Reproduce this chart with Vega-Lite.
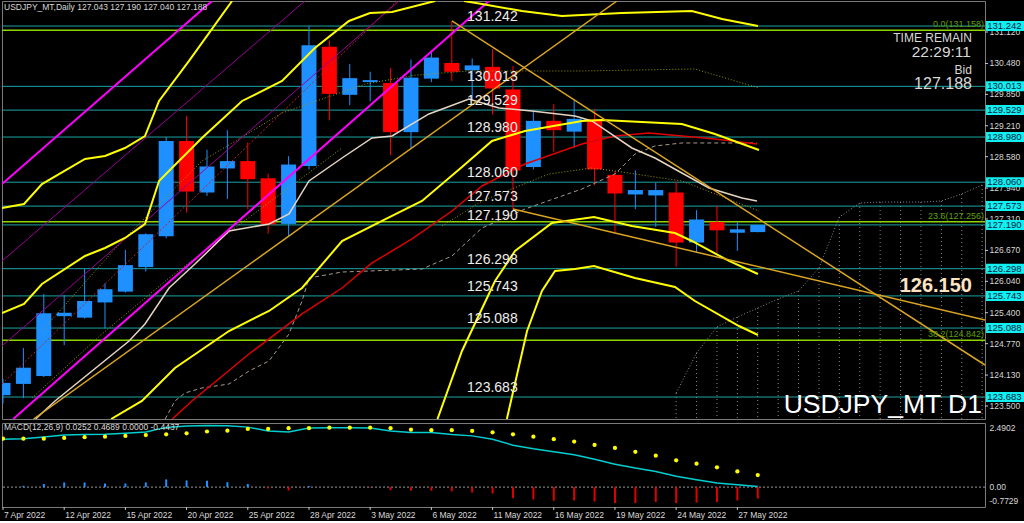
{
"$schema":"https://vega.github.io/schema/vega-lite/v6.json",
"background":"#000000",
"padding":0,
"spacing":2,
"config":{"view":{"stroke":"#7a7a7a","strokeWidth":1},"text":{"font":"Liberation Sans"},"scale":{"continuousPadding":0}},
"datasets":{
"candles":[
{"i":0,"d":"7 Apr","o":123.72,"h":124.05,"l":123.55,"c":123.97},
{"i":1,"d":"8 Apr","o":123.95,"h":124.68,"l":123.66,"c":124.28},
{"i":2,"d":"11 Apr","o":124.11,"h":125.78,"l":124.09,"c":125.39},
{"i":3,"d":"12 Apr","o":125.33,"h":125.76,"l":124.74,"c":125.40},
{"i":4,"d":"13 Apr","o":125.30,"h":126.31,"l":125.28,"c":125.64},
{"i":5,"d":"14 Apr","o":125.61,"h":126.00,"l":125.08,"c":125.88},
{"i":6,"d":"15 Apr","o":125.83,"h":126.68,"l":125.81,"c":126.37},
{"i":7,"d":"18 Apr","o":126.33,"h":127.02,"l":126.24,"c":127.00},
{"i":8,"d":"19 Apr","o":126.96,"h":128.98,"l":126.92,"c":128.90},
{"i":9,"d":"20 Apr","o":128.90,"h":129.41,"l":127.44,"c":127.87},
{"i":10,"d":"21 Apr","o":127.85,"h":128.72,"l":127.78,"c":128.38},
{"i":11,"d":"22 Apr","o":128.34,"h":129.12,"l":127.72,"c":128.49},
{"i":12,"d":"25 Apr","o":128.49,"h":128.87,"l":127.51,"c":128.12},
{"i":13,"d":"26 Apr","o":128.14,"h":128.23,"l":127.01,"c":127.20},
{"i":14,"d":"27 Apr","o":127.21,"h":128.59,"l":126.96,"c":128.42},
{"i":15,"d":"28 Apr","o":128.39,"h":131.24,"l":128.32,"c":130.85},
{"i":16,"d":"29 Apr","o":130.82,"h":130.95,"l":129.32,"c":129.86},
{"i":17,"d":"2 May","o":129.84,"h":130.47,"l":129.63,"c":130.18},
{"i":18,"d":"3 May","o":130.10,"h":130.31,"l":129.71,"c":130.14},
{"i":19,"d":"4 May","o":130.08,"h":130.39,"l":128.61,"c":129.08},
{"i":20,"d":"5 May","o":129.08,"h":130.56,"l":128.75,"c":130.19},
{"i":21,"d":"6 May","o":130.17,"h":130.73,"l":130.10,"c":130.60},
{"i":22,"d":"9 May","o":130.49,"h":131.34,"l":130.12,"c":130.31},
{"i":23,"d":"10 May","o":130.34,"h":130.58,"l":129.71,"c":130.44},
{"i":24,"d":"11 May","o":130.41,"h":130.77,"l":129.44,"c":129.97},
{"i":25,"d":"12 May","o":129.95,"h":130.43,"l":127.51,"c":128.30},
{"i":26,"d":"13 May","o":128.37,"h":129.51,"l":128.32,"c":129.31},
{"i":27,"d":"16 May","o":129.31,"h":129.65,"l":128.68,"c":129.12},
{"i":28,"d":"17 May","o":129.09,"h":129.73,"l":128.76,"c":129.35},
{"i":29,"d":"18 May","o":129.34,"h":129.55,"l":128.00,"c":128.32},
{"i":30,"d":"19 May","o":128.21,"h":128.29,"l":127.03,"c":127.83},
{"i":31,"d":"20 May","o":127.81,"h":128.30,"l":127.51,"c":127.90},
{"i":32,"d":"23 May","o":127.79,"h":128.05,"l":127.15,"c":127.90},
{"i":33,"d":"24 May","o":127.85,"h":128.07,"l":126.34,"c":126.83},
{"i":34,"d":"25 May","o":126.83,"h":127.49,"l":126.64,"c":127.30},
{"i":35,"d":"26 May","o":127.25,"h":127.58,"l":126.62,"c":127.08},
{"i":36,"d":"27 May","o":127.03,"h":127.25,"l":126.66,"c":127.10},
{"i":37,"d":"30 May","o":127.043,"h":127.190,"l":127.040,"c":127.188}
],
"macd":[
{"i":0,"m":1.86,"s":1.88,"h":0.0},{"i":1,"m":1.88,"s":1.88,"h":0.05},{"i":2,"m":1.95,"s":1.88,"h":0.12},{"i":3,"m":2.02,"s":1.91,"h":0.18},
{"i":4,"m":2.04,"s":1.94,"h":0.18},{"i":5,"m":2.05,"s":1.96,"h":0.14},{"i":6,"m":2.09,"s":1.99,"h":0.14},{"i":7,"m":2.14,"s":2.02,"h":0.18},
{"i":8,"m":2.32,"s":2.05,"h":0.30},{"i":9,"m":2.37,"s":2.09,"h":0.26},{"i":10,"m":2.39,"s":2.16,"h":0.25},{"i":11,"m":2.38,"s":2.19,"h":0.19},
{"i":12,"m":2.33,"s":2.26,"h":0.12},{"i":13,"m":2.18,"s":2.26,"h":-0.05},{"i":14,"m":2.14,"s":2.29,"h":-0.13},{"i":15,"m":2.30,"s":2.29,"h":0.04},
{"i":16,"m":2.31,"s":2.31,"h":0.01},{"i":17,"m":2.31,"s":2.31,"h":0.01},{"i":18,"m":2.30,"s":2.31,"h":-0.02},{"i":19,"m":2.18,"s":2.29,"h":-0.12},
{"i":20,"m":2.12,"s":2.23,"h":-0.14},{"i":21,"m":2.12,"s":2.21,"h":-0.14},{"i":22,"m":2.04,"s":2.21,"h":-0.16},{"i":23,"m":1.99,"s":2.18,"h":-0.21},
{"i":24,"m":1.86,"s":2.13,"h":-0.25},{"i":25,"m":1.63,"s":2.05,"h":-0.43},{"i":26,"m":1.49,"s":1.96,"h":-0.48},{"i":27,"m":1.37,"s":1.86,"h":-0.53},
{"i":28,"m":1.26,"s":1.77,"h":-0.52},{"i":29,"m":1.08,"s":1.64,"h":-0.56},{"i":30,"m":0.89,"s":1.52,"h":-0.62},{"i":31,"m":0.74,"s":1.37,"h":-0.62},
{"i":32,"m":0.61,"s":1.22,"h":-0.58},{"i":33,"m":0.42,"s":1.04,"h":-0.62},{"i":34,"m":0.29,"s":0.91,"h":-0.60},{"i":35,"m":0.16,"s":0.77,"h":-0.58},
{"i":36,"m":0.09,"s":0.61,"h":-0.52},{"i":37,"m":0.0252,"s":0.4689,"h":-0.4437}
],
"levels":[{"p":131.242},{"p":130.013},{"p":129.529},{"p":128.980},{"p":128.060},{"p":127.573},{"p":127.190},{"p":126.298},{"p":125.743},{"p":125.088},{"p":123.683}],
"fib":[{"p":131.158,"t":"0.0(131.158)"},{"p":127.256,"t":"23.6(127.256)"},{"p":124.842,"t":"38.2(124.842)"}],
"pticks":[{"p":131.12,"t":"131.120"},{"p":130.48,"t":"130.480"},{"p":129.85,"t":"129.850"},{"p":129.21,"t":"129.210"},{"p":128.58,"t":"128.580"},{"p":127.94,"t":"127.940"},{"p":127.31,"t":"127.310"},{"p":126.67,"t":"126.670"},{"p":126.04,"t":"126.040"},{"p":125.40,"t":"125.400"},{"p":124.77,"t":"124.770"},{"p":124.13,"t":"124.130"},{"p":123.50,"t":"123.500"}],
"dticks":[{"i":0,"t":"7 Apr 2022"},{"i":3,"t":"12 Apr 2022"},{"i":6,"t":"15 Apr 2022"},{"i":9,"t":"20 Apr 2022"},{"i":12,"t":"25 Apr 2022"},{"i":15,"t":"28 Apr 2022"},{"i":18,"t":"3 May 2022"},{"i":21,"t":"6 May 2022"},{"i":24,"t":"11 May 2022"},{"i":27,"t":"16 May 2022"},{"i":30,"t":"19 May 2022"},{"i":33,"t":"24 May 2022"},{"i":36,"t":"27 May 2022"}],
"cloud":[
{"i":33,"p":123.765},{"i":34,"p":124.58},{"i":35,"p":125.11},{"i":36,"p":125.314},{"i":37,"p":125.497},{"i":38,"p":125.68},{"i":39,"p":125.843},{"i":40,"p":126.312},
{"i":41,"p":127.351},{"i":42,"p":127.636},{"i":43,"p":127.656},{"i":44,"p":127.656},{"i":45,"p":127.656},{"i":46,"p":127.677},{"i":47,"p":127.82},{"i":48,"p":128.003}
],
"curves":[
{"k":"A","i":-0.05,"p":127.534},{"k":"A","i":1.03,"p":127.616},{"k":"A","i":1.91,"p":128.023},{"k":"A","i":4.02,"p":128.533},{"k":"A","i":5.0,"p":128.594},{"k":"A","i":5.98,"p":128.757},{"k":"A","i":6.96,"p":129.001},{"k":"A","i":7.65,"p":129.715},{"k":"A","i":9.12,"p":130.53},{"k":"A","i":11.23,"p":131.752},
{"k":"B","i":-0.05,"p":125.395},{"k":"B","i":1.03,"p":125.578},{"k":"B","i":1.91,"p":125.986},{"k":"B","i":4.02,"p":126.556},{"k":"B","i":5.0,"p":126.719},{"k":"B","i":5.98,"p":126.923},{"k":"B","i":6.96,"p":127.208},{"k":"B","i":7.65,"p":128.085},{"k":"B","i":8.28,"p":128.349},{"k":"B","i":9.75,"p":128.961},{"k":"B","i":11.72,"p":129.715},{"k":"B","i":13.68,"p":130.122},{"k":"B","i":15.29,"p":130.794},{"k":"B","i":16.96,"p":131.345},{"k":"B","i":17.99,"p":131.508},{"k":"B","i":19.07,"p":131.528},{"k":"B","i":21.18,"p":131.752},
{"k":"B2","i":22.6,"p":131.752},{"k":"B2","i":23.48,"p":131.691},{"k":"B2","i":25.44,"p":131.548},{"k":"B2","i":27.4,"p":131.446},{"k":"B2","i":30.34,"p":131.508},{"k":"B2","i":33.77,"p":131.548},{"k":"B2","i":35.25,"p":131.385},{"k":"B2","i":37.01,"p":131.243},
{"k":"C","i":5.3,"p":123.235},{"k":"C","i":6.81,"p":123.602},{"k":"C","i":8.43,"p":124.274},{"k":"C","i":11.08,"p":125.028},{"k":"C","i":13.04,"p":125.436},{"k":"C","i":14.66,"p":125.904},{"k":"C","i":16.62,"p":126.862},{"k":"C","i":18.58,"p":127.27},{"k":"C","i":20.54,"p":127.677},{"k":"C","i":22.5,"p":128.37},{"k":"C","i":23.97,"p":128.9},{"k":"C","i":25.59,"p":129.103},{"k":"C","i":28.38,"p":129.307},{"k":"C","i":29.36,"p":129.327},{"k":"C","i":33.28,"p":129.246},{"k":"C","i":34.9,"p":129.042},{"k":"C","i":37.06,"p":128.716},
{"k":"D","i":21.3,"p":123.235},{"k":"D","i":22.5,"p":124.621},{"k":"D","i":24.12,"p":126.047},{"k":"D","i":25.1,"p":126.658},{"k":"D","i":26.91,"p":127.229},{"k":"D","i":28.97,"p":127.351},{"k":"D","i":30.83,"p":127.168},{"k":"D","i":32.94,"p":127.025},{"k":"D","i":33.77,"p":126.862},{"k":"D","i":35.59,"p":126.455},{"k":"D","i":37.01,"p":126.19},
{"k":"E","i":24.7,"p":123.235},{"k":"E","i":25.69,"p":125.028},{"k":"E","i":26.42,"p":125.843},{"k":"E","i":27.06,"p":126.251},{"k":"E","i":28.04,"p":126.291},{"k":"E","i":28.97,"p":126.353},{"k":"E","i":30.98,"p":126.108},{"k":"E","i":32.94,"p":125.925},{"k":"E","i":33.92,"p":125.639},{"k":"E","i":36.08,"p":125.13},{"k":"E","i":37.01,"p":124.947},
{"k":"W","i":1.6,"p":123.235},{"k":"W","i":2.55,"p":123.602},{"k":"W","i":6.18,"p":124.825},{"k":"W","i":6.96,"p":125.171},{"k":"W","i":8.14,"p":125.904},{"k":"W","i":9.41,"p":126.393},{"k":"W","i":11.08,"p":127.066},{"k":"W","i":13.04,"p":127.208},{"k":"W","i":14.02,"p":127.412},{"k":"W","i":15.0,"p":128.085},{"k":"W","i":16.62,"p":128.553},{"k":"W","i":18.09,"p":128.961},{"k":"W","i":19.07,"p":129.001},{"k":"W","i":20.88,"p":129.45},{"k":"W","i":22.84,"p":129.755},{"k":"W","i":24.31,"p":129.572},{"k":"W","i":25.93,"p":129.511},{"k":"W","i":28.04,"p":129.409},{"k":"W","i":28.87,"p":129.307},{"k":"W","i":30.83,"p":128.757},{"k":"W","i":31.96,"p":128.553},{"k":"W","i":33.28,"p":128.248},{"k":"W","i":34.61,"p":127.942},{"k":"W","i":36.23,"p":127.738},{"k":"W","i":36.96,"p":127.677},
{"k":"R","i":8.3,"p":123.235},{"k":"R","i":9.26,"p":123.602},{"k":"R","i":12.06,"p":124.56},{"k":"R","i":14.66,"p":125.375},{"k":"R","i":16.62,"p":125.904},{"k":"R","i":18.09,"p":126.414},{"k":"R","i":20.05,"p":126.903},{"k":"R","i":22.01,"p":127.473},{"k":"R","i":23.48,"p":127.983},{"k":"R","i":25.59,"p":128.431},{"k":"R","i":28.38,"p":128.838},{"k":"R","i":30.0,"p":129.001},{"k":"R","i":31.67,"p":129.062},{"k":"R","i":33.28,"p":129.001},{"k":"R","i":34.9,"p":128.94},{"k":"R","i":36.96,"p":128.838},
{"k":"K","i":7.95,"p":123.235},{"k":"K","i":8.43,"p":123.602},{"k":"K","i":8.92,"p":123.765},{"k":"K","i":9.75,"p":123.867},{"k":"K","i":11.08,"p":123.948},{"k":"K","i":12.06,"p":124.213},{"k":"K","i":13.04,"p":124.417},{"k":"K","i":14.02,"p":124.967},{"k":"K","i":14.66,"p":125.64},{"k":"K","i":15.0,"p":126.108},{"k":"K","i":16.62,"p":126.23},{"k":"K","i":20.54,"p":126.291},{"k":"K","i":22.01,"p":126.556},{"k":"K","i":23.48,"p":127.127},{"k":"K","i":25.59,"p":127.514},{"k":"K","i":28.38,"p":127.922},{"k":"K","i":30.0,"p":128.227},{"k":"K","i":30.98,"p":128.635},{"k":"K","i":31.96,"p":128.798},{"k":"K","i":33.28,"p":128.859},{"k":"K","i":36.96,"p":128.859},
{"k":"O1","i":1.91,"p":125.03},{"k":"O1","i":5.83,"p":126.862},{"k":"O1","i":9.75,"p":128.49},{"k":"O1","i":13.68,"p":129.47},{"k":"O1","i":17.75,"p":130.06},{"k":"O1","i":20.2,"p":130.24},{"k":"O1","i":22.84,"p":130.326},{"k":"O1","i":28.38,"p":130.326},{"k":"O1","i":33.92,"p":130.367},{"k":"O1","i":37.06,"p":129.979},
{"k":"O2","i":1.42,"p":123.663},{"k":"O2","i":4.85,"p":124.967},{"k":"O2","i":8.14,"p":126.108},{"k":"O2","i":11.37,"p":127.127},{"k":"O2","i":16.62,"p":128.757},
{"k":"O3","i":21.52,"p":127.167},{"k":"O3","i":23.48,"p":127.677},{"k":"O3","i":26.76,"p":128.227},{"k":"O3","i":28.87,"p":128.35},{"k":"O3","i":30.0,"p":128.288},{"k":"O3","i":33.28,"p":128.085},{"k":"O3","i":37.06,"p":127.473},
{"k":"M1","i":0.5,"p":123.235},{"k":"M1","i":23.82,"p":131.752},
{"k":"M2","i":-0.049,"p":128.023},{"k":"M2","i":10.25,"p":131.752},
{"k":"P1","i":-0.049,"p":126.454},{"k":"P1","i":14.8,"p":131.752},
{"k":"P2","i":-0.049,"p":124.723},{"k":"P2","i":19.41,"p":131.752},
{"k":"RD","i":-0.049,"p":123.948},{"k":"RD","i":19.31,"p":131.752},
{"k":"T1","i":1.5,"p":123.235},{"k":"T1","i":30.098,"p":131.752},
{"k":"T2","i":22.01,"p":131.345},{"k":"T2","i":48.14,"p":124.335},
{"k":"T3","i":25.0,"p":127.514},{"k":"T3","i":48.14,"p":125.251}
]
},
"vconcat":[
{
"width":983,"height":418,
"layer":[
{"data":{"name":"levels"},"mark":{"type":"rule","color":"#1CA3A3","strokeWidth":1},
 "encoding":{"y":{"field":"p","type":"quantitative","scale":{"domain":[123.235,131.752],"nice":false,"zero":false,"padding":0},"axis":null}}},
{"data":{"name":"fib"},"mark":{"type":"rule","color":"#8CD600","strokeWidth":1.5},
 "encoding":{"y":{"field":"p","type":"quantitative","scale":{"domain":[123.235,131.752],"nice":false,"zero":false,"padding":0},"axis":null}}},
{"data":{"name":"cloud"},"mark":{"type":"rule","color":"#8a8a8a","strokeWidth":1,"strokeDash":[1,3],"clip":true},
 "encoding":{"x":{"field":"i","type":"quantitative","scale":{"domain":[-0.049,48.14],"nice":false,"zero":false,"padding":0},"axis":null},
  "y":{"field":"p","type":"quantitative","scale":{"domain":[123.235,131.752],"nice":false,"zero":false,"padding":0},"axis":null},
  "y2":{"datum":123.235}}},
{"data":{"name":"cloud"},"mark":{"type":"line","color":"#8a8a8a","strokeWidth":1,"strokeDash":[1,2],"clip":true},
 "encoding":{"x":{"field":"i","type":"quantitative","scale":{"domain":[-0.049,48.14],"nice":false,"zero":false,"padding":0},"axis":null},
  "y":{"field":"p","type":"quantitative","scale":{"domain":[123.235,131.752],"nice":false,"zero":false,"padding":0},"axis":null}}},
{"data":{"name":"candles"},"mark":{"type":"rule","strokeWidth":1,"clip":true},
 "encoding":{"x":{"field":"i","type":"quantitative","scale":{"domain":[-0.049,48.14],"nice":false,"zero":false,"padding":0},"axis":null},
  "y":{"field":"l","type":"quantitative","scale":{"domain":[123.235,131.752],"nice":false,"zero":false,"padding":0},"axis":null},
  "y2":{"field":"h"},
  "color":{"condition":{"test":"datum.c >= datum.o","value":"#1E90FF"},"value":"#FF0000"}}},
{"data":{"name":"candles"},"mark":{"type":"bar","size":15,"clip":true},
 "encoding":{"x":{"field":"i","type":"quantitative","scale":{"domain":[-0.049,48.14],"nice":false,"zero":false,"padding":0},"axis":null},
  "y":{"field":"o","type":"quantitative","scale":{"domain":[123.235,131.752],"nice":false,"zero":false,"padding":0},"axis":null},
  "y2":{"field":"c"},
  "color":{"condition":{"test":"datum.c >= datum.o","value":"#1E90FF"},"value":"#FF0000"}}},
{"data":{"name":"curves"},"transform":[{"filter":{"field":"k","oneOf":["O1","O2","O3"]}}],
 "mark":{"type":"line","color":"#9A9A10","strokeWidth":1,"strokeDash":[1,2],"clip":true},
 "encoding":{"x":{"field":"i","type":"quantitative","scale":{"domain":[-0.049,48.14],"nice":false,"zero":false,"padding":0},"axis":null},
  "y":{"field":"p","type":"quantitative","scale":{"domain":[123.235,131.752],"nice":false,"zero":false,"padding":0},"axis":null},"detail":{"field":"k"}}},
{"data":{"name":"curves"},"transform":[{"filter":{"field":"k","oneOf":["RD"]}}],
 "mark":{"type":"line","color":"#C02020","strokeWidth":1,"strokeDash":[2,2],"clip":true},
 "encoding":{"x":{"field":"i","type":"quantitative","scale":{"domain":[-0.049,48.14],"nice":false,"zero":false,"padding":0},"axis":null},
  "y":{"field":"p","type":"quantitative","scale":{"domain":[123.235,131.752],"nice":false,"zero":false,"padding":0},"axis":null},"detail":{"field":"k"}}},
{"data":{"name":"curves"},"transform":[{"filter":{"field":"k","oneOf":["P1","P2"]}}],
 "mark":{"type":"line","color":"#990099","strokeWidth":1,"clip":true},
 "encoding":{"x":{"field":"i","type":"quantitative","scale":{"domain":[-0.049,48.14],"nice":false,"zero":false,"padding":0},"axis":null},
  "y":{"field":"p","type":"quantitative","scale":{"domain":[123.235,131.752],"nice":false,"zero":false,"padding":0},"axis":null},"detail":{"field":"k"}}},
{"data":{"name":"curves"},"transform":[{"filter":{"field":"k","oneOf":["K"]}}],
 "mark":{"type":"line","color":"#A89A8A","strokeWidth":1,"strokeDash":[4,3],"clip":true},
 "encoding":{"x":{"field":"i","type":"quantitative","scale":{"domain":[-0.049,48.14],"nice":false,"zero":false,"padding":0},"axis":null},
  "y":{"field":"p","type":"quantitative","scale":{"domain":[123.235,131.752],"nice":false,"zero":false,"padding":0},"axis":null},"detail":{"field":"k"}}},
{"data":{"name":"curves"},"transform":[{"filter":{"field":"k","oneOf":["R"]}}],
 "mark":{"type":"line","color":"#E00000","strokeWidth":1.5,"clip":true},
 "encoding":{"x":{"field":"i","type":"quantitative","scale":{"domain":[-0.049,48.14],"nice":false,"zero":false,"padding":0},"axis":null},
  "y":{"field":"p","type":"quantitative","scale":{"domain":[123.235,131.752],"nice":false,"zero":false,"padding":0},"axis":null},"detail":{"field":"k"}}},
{"data":{"name":"curves"},"transform":[{"filter":{"field":"k","oneOf":["W"]}}],
 "mark":{"type":"line","color":"#E6D5C3","strokeWidth":1.5,"clip":true},
 "encoding":{"x":{"field":"i","type":"quantitative","scale":{"domain":[-0.049,48.14],"nice":false,"zero":false,"padding":0},"axis":null},
  "y":{"field":"p","type":"quantitative","scale":{"domain":[123.235,131.752],"nice":false,"zero":false,"padding":0},"axis":null},"detail":{"field":"k"}}},
{"data":{"name":"curves"},"transform":[{"filter":{"field":"k","oneOf":["M1","M2"]}}],
 "mark":{"type":"line","color":"#FF00FF","strokeWidth":2,"clip":true},
 "encoding":{"x":{"field":"i","type":"quantitative","scale":{"domain":[-0.049,48.14],"nice":false,"zero":false,"padding":0},"axis":null},
  "y":{"field":"p","type":"quantitative","scale":{"domain":[123.235,131.752],"nice":false,"zero":false,"padding":0},"axis":null},"detail":{"field":"k"}}},
{"data":{"name":"curves"},"transform":[{"filter":{"field":"k","oneOf":["A","B","B2","C","D","E"]}}],
 "mark":{"type":"line","color":"#FFFF00","strokeWidth":2,"clip":true},
 "encoding":{"x":{"field":"i","type":"quantitative","scale":{"domain":[-0.049,48.14],"nice":false,"zero":false,"padding":0},"axis":null},
  "y":{"field":"p","type":"quantitative","scale":{"domain":[123.235,131.752],"nice":false,"zero":false,"padding":0},"axis":null},"detail":{"field":"k"}}},
{"data":{"name":"curves"},"transform":[{"filter":{"field":"k","oneOf":["T1","T2","T3"]}}],
 "mark":{"type":"line","color":"#DAA520","strokeWidth":1.5,"clip":true},
 "encoding":{"x":{"field":"i","type":"quantitative","scale":{"domain":[-0.049,48.14],"nice":false,"zero":false,"padding":0},"axis":null},
  "y":{"field":"p","type":"quantitative","scale":{"domain":[123.235,131.752],"nice":false,"zero":false,"padding":0},"axis":null},"detail":{"field":"k"}}},
{"data":{"name":"levels"},"mark":{"type":"text","align":"left","baseline":"bottom","dy":-2,"fontSize":14,"color":"#eeeeee","font":"Liberation Sans"},
 "encoding":{"x":{"datum":22.75,"type":"quantitative","scale":{"domain":[-0.049,48.14],"nice":false,"zero":false,"padding":0},"axis":null},
  "y":{"field":"p","type":"quantitative","scale":{"domain":[123.235,131.752],"nice":false,"zero":false,"padding":0},"axis":null},
  "text":{"field":"p","type":"quantitative","format":".3f"}}},
{"data":{"name":"fib"},"mark":{"type":"text","align":"right","baseline":"bottom","dy":-1,"fontSize":9,"color":"#5FA000","font":"Liberation Sans"},
 "encoding":{"x":{"datum":48.09,"type":"quantitative","scale":{"domain":[-0.049,48.14],"nice":false,"zero":false,"padding":0},"axis":null},
  "y":{"field":"p","type":"quantitative","scale":{"domain":[123.235,131.752],"nice":false,"zero":false,"padding":0},"axis":null},
  "text":{"field":"t"}}},
{"data":{"name":"pticks"},"mark":{"type":"rule","color":"#c8c8c8","strokeWidth":1,"clip":false},
 "encoding":{"x":{"datum":48.14,"type":"quantitative","scale":{"domain":[-0.049,48.14],"nice":false,"zero":false,"padding":0},"axis":null},
  "x2":{"datum":48.29},
  "y":{"field":"p","type":"quantitative","scale":{"domain":[123.235,131.752],"nice":false,"zero":false,"padding":0},"axis":null}}},
{"data":{"name":"pticks"},"mark":{"type":"text","align":"left","baseline":"middle","fontSize":8.5,"color":"#d8d8d8","clip":false},
 "encoding":{"x":{"datum":48.36,"type":"quantitative","scale":{"domain":[-0.049,48.14],"nice":false,"zero":false,"padding":0},"axis":null},
  "y":{"field":"p","type":"quantitative","scale":{"domain":[123.235,131.752],"nice":false,"zero":false,"padding":0},"axis":null},
  "text":{"field":"t"}}},
{"data":{"name":"levels"},"mark":{"type":"bar","orient":"horizontal","size":10,"color":"#10F0F0","clip":false},
 "encoding":{"x":{"datum":48.19,"type":"quantitative","scale":{"domain":[-0.049,48.14],"nice":false,"zero":false,"padding":0},"axis":null},
  "x2":{"datum":50.1},
  "y":{"field":"p","type":"quantitative","scale":{"domain":[123.235,131.752],"nice":false,"zero":false,"padding":0},"axis":null}}},
{"data":{"name":"levels"},"mark":{"type":"text","align":"left","baseline":"middle","fontSize":9.5,"color":"#0a1a40","font":"Liberation Sans","clip":false},
 "encoding":{"x":{"datum":48.25,"type":"quantitative","scale":{"domain":[-0.049,48.14],"nice":false,"zero":false,"padding":0},"axis":null},
  "y":{"field":"p","type":"quantitative","scale":{"domain":[123.235,131.752],"nice":false,"zero":false,"padding":0},"axis":null},
  "text":{"field":"p","type":"quantitative","format":".3f"}}},
{"data":{"values":[{"t":"USDJPY_MT,Daily  127.043 127.190 127.040 127.188"}]},"mark":{"type":"text","align":"left","baseline":"middle","fontSize":8.5,"color":"#d8d8d8"},
 "encoding":{"x":{"datum":0.05,"type":"quantitative","scale":{"domain":[-0.049,48.14],"nice":false,"zero":false,"padding":0},"axis":null},
  "y":{"datum":131.63,"type":"quantitative","scale":{"domain":[123.235,131.752],"nice":false,"zero":false,"padding":0},"axis":null},"text":{"field":"t"}}},
{"data":{"values":[{"t":"TIME REMAIN"}]},"mark":{"type":"text","align":"right","baseline":"middle","fontSize":12,"color":"#d8d8d8"},
 "encoding":{"x":{"datum":47.5,"type":"quantitative","scale":{"domain":[-0.049,48.14],"nice":false,"zero":false,"padding":0},"axis":null},
  "y":{"datum":130.998,"type":"quantitative","scale":{"domain":[123.235,131.752],"nice":false,"zero":false,"padding":0},"axis":null},"text":{"field":"t"}}},
{"data":{"values":[{"t":"22:29:11"}]},"mark":{"type":"text","align":"right","baseline":"middle","fontSize":15.5,"color":"#d8d8d8"},
 "encoding":{"x":{"datum":47.45,"type":"quantitative","scale":{"domain":[-0.049,48.14],"nice":false,"zero":false,"padding":0},"axis":null},
  "y":{"datum":130.713,"type":"quantitative","scale":{"domain":[123.235,131.752],"nice":false,"zero":false,"padding":0},"axis":null},"text":{"field":"t"}}},
{"data":{"values":[{"t":"Bid"}]},"mark":{"type":"text","align":"right","baseline":"middle","fontSize":12,"color":"#d8d8d8"},
 "encoding":{"x":{"datum":47.5,"type":"quantitative","scale":{"domain":[-0.049,48.14],"nice":false,"zero":false,"padding":0},"axis":null},
  "y":{"datum":130.336,"type":"quantitative","scale":{"domain":[123.235,131.752],"nice":false,"zero":false,"padding":0},"axis":null},"text":{"field":"t"}}},
{"data":{"values":[{"t":"127.188"}]},"mark":{"type":"text","align":"right","baseline":"middle","fontSize":16,"color":"#d8d8d8"},
 "encoding":{"x":{"datum":47.5,"type":"quantitative","scale":{"domain":[-0.049,48.14],"nice":false,"zero":false,"padding":0},"axis":null},
  "y":{"datum":130.051,"type":"quantitative","scale":{"domain":[123.235,131.752],"nice":false,"zero":false,"padding":0},"axis":null},"text":{"field":"t"}}},
{"data":{"values":[{"t":"126.150"}]},"mark":{"type":"text","align":"right","baseline":"middle","fontSize":20,"fontWeight":"bold","color":"#FFE4C4"},
 "encoding":{"x":{"datum":47.5,"type":"quantitative","scale":{"domain":[-0.049,48.14],"nice":false,"zero":false,"padding":0},"axis":null},
  "y":{"datum":125.935,"type":"quantitative","scale":{"domain":[123.235,131.752],"nice":false,"zero":false,"padding":0},"axis":null},"text":{"field":"t"}}},
{"data":{"values":[{"t":"USDJPY_MT D1"}]},"mark":{"type":"text","align":"right","baseline":"alphabetic","fontSize":26.5,"color":"#ffffff"},
 "encoding":{"x":{"datum":47.99,"type":"quantitative","scale":{"domain":[-0.049,48.14],"nice":false,"zero":false,"padding":0},"axis":null},
  "y":{"datum":123.358,"type":"quantitative","scale":{"domain":[123.235,131.752],"nice":false,"zero":false,"padding":0},"axis":null},"text":{"field":"t"}}}
]
},
{
"width":983,"height":84,
"layer":[
{"data":{"values":[{}]},"mark":{"type":"rule","color":"#9a9a9a","strokeWidth":1,"strokeDash":[2,2]},
 "encoding":{"y":{"datum":0,"type":"quantitative","scale":{"domain":[-0.7729,2.4902],"nice":false,"zero":false,"padding":0},"axis":null}}},
{"data":{"name":"macd"},"mark":{"type":"rule","strokeWidth":2,"clip":true},
 "encoding":{"x":{"field":"i","type":"quantitative","scale":{"domain":[-0.049,48.14],"nice":false,"zero":false,"padding":0},"axis":null},
  "y":{"field":"h","type":"quantitative","scale":{"domain":[-0.7729,2.4902],"nice":false,"zero":false,"padding":0},"axis":null},
  "y2":{"datum":0},
  "color":{"condition":{"test":"datum.h >= 0","value":"#1E90FF"},"value":"#E00000"}}},
{"data":{"name":"macd"},"mark":{"type":"line","color":"#00CED1","strokeWidth":1.5,"clip":true},
 "encoding":{"x":{"field":"i","type":"quantitative","scale":{"domain":[-0.049,48.14],"nice":false,"zero":false,"padding":0},"axis":null},
  "y":{"field":"m","type":"quantitative","scale":{"domain":[-0.7729,2.4902],"nice":false,"zero":false,"padding":0},"axis":null}}},
{"data":{"name":"macd"},"mark":{"type":"point","filled":true,"color":"#FFFF00","size":18,"opacity":1,"clip":true},
 "encoding":{"x":{"field":"i","type":"quantitative","scale":{"domain":[-0.049,48.14],"nice":false,"zero":false,"padding":0},"axis":null},
  "y":{"field":"s","type":"quantitative","scale":{"domain":[-0.7729,2.4902],"nice":false,"zero":false,"padding":0},"axis":null}}},
{"data":{"name":"dticks"},"mark":{"type":"rule","color":"#c8c8c8","strokeWidth":1,"clip":false},
 "encoding":{"x":{"field":"i","type":"quantitative","scale":{"domain":[-0.049,48.14],"nice":false,"zero":false,"padding":0},"axis":null},
  "y":{"datum":-0.7729,"type":"quantitative","scale":{"domain":[-0.7729,2.4902],"nice":false,"zero":false,"padding":0},"axis":null},
  "y2":{"datum":-0.889}}},
{"data":{"name":"dticks"},"mark":{"type":"text","align":"left","baseline":"top","dx":1,"fontSize":8.5,"color":"#d8d8d8","clip":false},
 "encoding":{"x":{"field":"i","type":"quantitative","scale":{"domain":[-0.049,48.14],"nice":false,"zero":false,"padding":0},"axis":null},
  "y":{"datum":-0.93,"type":"quantitative","scale":{"domain":[-0.7729,2.4902],"nice":false,"zero":false,"padding":0},"axis":null},
  "text":{"field":"t"}}},
{"data":{"values":[{"t":"2.4902"}]},"mark":{"type":"text","align":"left","baseline":"top","dy":1,"fontSize":8.5,"color":"#d8d8d8","clip":false},
 "encoding":{"x":{"datum":48.36,"type":"quantitative","scale":{"domain":[-0.049,48.14],"nice":false,"zero":false,"padding":0},"axis":null},
  "y":{"datum":2.4902,"type":"quantitative","scale":{"domain":[-0.7729,2.4902],"nice":false,"zero":false,"padding":0},"axis":null},"text":{"field":"t"}}},
{"data":{"values":[{"t":"0.00"}]},"mark":{"type":"text","align":"left","baseline":"middle","fontSize":8.5,"color":"#d8d8d8","clip":false},
 "encoding":{"x":{"datum":48.36,"type":"quantitative","scale":{"domain":[-0.049,48.14],"nice":false,"zero":false,"padding":0},"axis":null},
  "y":{"datum":0,"type":"quantitative","scale":{"domain":[-0.7729,2.4902],"nice":false,"zero":false,"padding":0},"axis":null},"text":{"field":"t"}}},
{"data":{"values":[{"t":"-0.7729"}]},"mark":{"type":"text","align":"left","baseline":"bottom","dy":-1,"fontSize":8.5,"color":"#d8d8d8","clip":false},
 "encoding":{"x":{"datum":48.36,"type":"quantitative","scale":{"domain":[-0.049,48.14],"nice":false,"zero":false,"padding":0},"axis":null},
  "y":{"datum":-0.7729,"type":"quantitative","scale":{"domain":[-0.7729,2.4902],"nice":false,"zero":false,"padding":0},"axis":null},"text":{"field":"t"}}},
{"data":{"values":[{"t":"MACD(12,26,9) 0.0252 0.4689 0.0000 -0.4437"}]},"mark":{"type":"text","align":"left","baseline":"middle","fontSize":8.5,"color":"#d8d8d8"},
 "encoding":{"x":{"datum":0.05,"type":"quantitative","scale":{"domain":[-0.049,48.14],"nice":false,"zero":false,"padding":0},"axis":null},
  "y":{"datum":2.34,"type":"quantitative","scale":{"domain":[-0.7729,2.4902],"nice":false,"zero":false,"padding":0},"axis":null},"text":{"field":"t"}}}
]
}
]
}
